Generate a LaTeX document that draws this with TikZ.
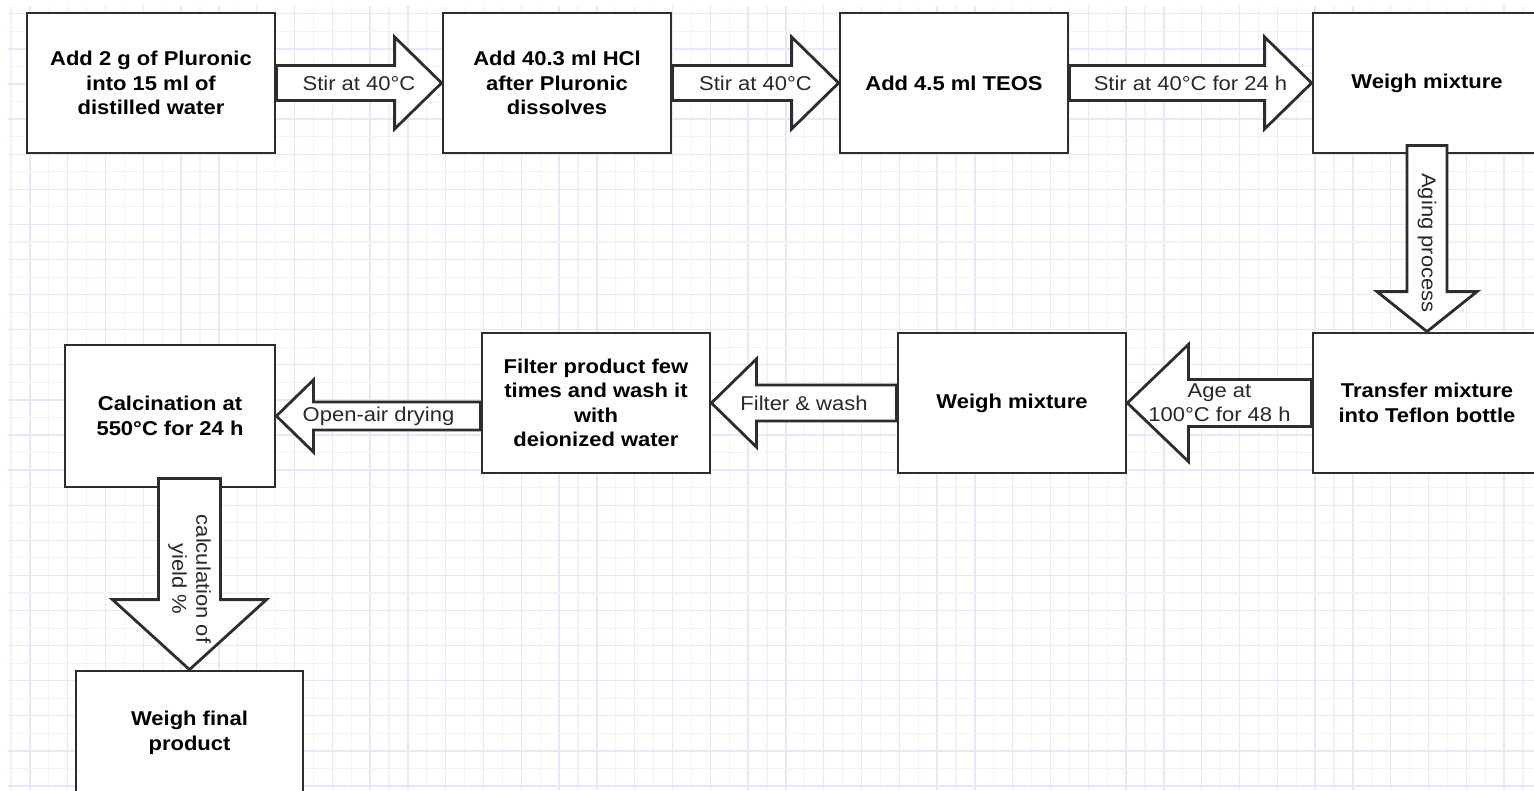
\documentclass[tikz,border=0pt]{standalone}
\usepackage{fontspec}
\setmainfont{Liberation Sans}[FakeStretch=1.1]
\usetikzlibrary{calc}

\definecolor{boxline}{RGB}{45,45,45}
\definecolor{gridmajor}{RGB}{230,230,252}
\definecolor{gridminor}{RGB}{242,242,254}
\definecolor{labeltext}{RGB}{40,40,40}

\tikzset{
	shaftw/.store in=\shafthw, headw/.store in=\headhw, headl/.store in=\headlen,
	shaftw=17.5, headw=46, headl=47,
	stepbox/.style={draw=boxline, line width=2.8pt, fill=white, text=black, minimum width=228pt, minimum height=140pt, inner sep=0pt, align=center, font=\fontsize{20pt}{24.5pt}\selectfont\bfseries},
	steplabel/.style={text=labeltext, inner sep=0pt, align=center, font=\fontsize{20pt}{24pt}\selectfont},
	flowarrow/.style={draw=boxline, line width=2.8pt, fill=white},
	rblock/.style={flowarrow, to path={($(\tikztostart)+(0,-\shafthw)$) -- ($(\tikztotarget)+(-\headlen,-\shafthw)$) -- ($(\tikztotarget)+(-\headlen,-\headhw)$) -- (\tikztotarget) -- ($(\tikztotarget)+(-\headlen,\headhw)$) -- ($(\tikztotarget)+(-\headlen,\shafthw)$) -- ($(\tikztostart)+(0,\shafthw)$) -- cycle}},
	lblock/.style={flowarrow, to path={($(\tikztostart)+(0,-\shafthw)$) -- ($(\tikztotarget)+(\headlen,-\shafthw)$) -- ($(\tikztotarget)+(\headlen,-\headhw)$) -- (\tikztotarget) -- ($(\tikztotarget)+(\headlen,\headhw)$) -- ($(\tikztotarget)+(\headlen,\shafthw)$) -- ($(\tikztostart)+(0,\shafthw)$) -- cycle}},
	dblock/.style={flowarrow, to path={($(\tikztostart)+(-\shafthw,0)$) -- ($(\tikztotarget)+(-\shafthw,-\headlen)$) -- ($(\tikztotarget)+(-\headhw,-\headlen)$) -- (\tikztotarget) -- ($(\tikztotarget)+(\headhw,-\headlen)$) -- ($(\tikztotarget)+(\shafthw,-\headlen)$) -- ($(\tikztostart)+(\shafthw,0)$) -- cycle}}
}

\begin{document}
\begin{tikzpicture}[x=1pt, y=-1pt]
	\useasboundingbox (0, 0) rectangle (1534, 790);
	\clip (0, 0) rectangle (1534, 790);
	\fill[white] (0, 0) rectangle (1534, 790);
	% background grid
	\begin{scope}
		\clip (8, 6) rectangle (1534, 790);
		\foreach \i in {0,...,40} \draw[gridminor, line width=1.1pt] (11+37.8*\i, 6) -- (11+37.8*\i, 790);
		\foreach \i in {0,...,39} \draw[gridmajor, line width=1.3pt] (29.9+37.8*\i, 6) -- (29.9+37.8*\i, 790);
		\foreach \j in {0,...,21} \draw[gridminor, line width=1.1pt] (8, 31.35+35.1*\j) -- (1534, 31.35+35.1*\j);
		\foreach \j in {0,...,22} \draw[gridmajor, line width=1.3pt] (8, 13.8+35.1*\j) -- (1534, 13.8+35.1*\j);
	\end{scope}

	\node[stepbox, minimum width=248pt] (Plu)at(151, 83) {Add 2 g of Pluronic\\into 15 ml of\\distilled water};
	\node[stepbox] (HCl)at(557, 83) {Add 40.3 ml HCl\\after Pluronic\\dissolves};
	\node[stepbox] (TEOS)at(954, 83) {Add 4.5 ml TEOS};
	\node[stepbox] (WM1)at(1427, 83) {Weigh mixture};
	\node[stepbox] (Tef)at(1427, 403) {Transfer mixture\\into Teflon bottle};
	\node[stepbox] (WM2)at(1012, 403) {Weigh mixture};
	\node[stepbox] (Fil)at(596, 403) {Filter product few\\times and wash it\\with\\deionized water};
	\node[stepbox, minimum width=210pt, minimum height=142pt] (Cal)at(170, 416) {Calcination at\\550°C for 24 h};
	\node[stepbox, minimum width=227pt, minimum height=124pt] (WFP)at(189.5, 733) {Weigh final\\product};

	\coordinate (AgeTop) at ($(WM1.south)+(0,-9)$);
	\coordinate (CalBot) at ($(WFP.north |- Cal.south)+(0,-10)$);
	\coordinate (DryStart) at (Fil.west |- Cal.east);

	\draw[rblock] (Plu.east) to (HCl.west);
	\draw[rblock] (HCl.east) to (TEOS.west);
	\draw[rblock] (TEOS.east) to (WM1.west);
	\draw[dblock, shaftw=20, headw=50, headl=40] (AgeTop) to (Tef.north);
	\draw[lblock, shaftw=23.5, headw=58.5, headl=61] (Tef.west) to (WM2.east);
	\draw[lblock, shaftw=18, headw=44, headl=45] (WM2.west) to (Fil.east);
	\draw[lblock, shaftw=14, headw=36, headl=37] (DryStart) to (Cal.east);
	\draw[dblock, shaftw=31, headw=77, headl=70] (CalBot) to (WFP.north);

	\node[steplabel] (L1) at ($(Plu.east)!0.5!(HCl.west)$) {Stir at 40°C};
	\node[steplabel] (L2) at ($(HCl.east)!0.5!(TEOS.west)$) {Stir at 40°C};
	\node[steplabel] (L3) at ($(TEOS.east)!0.5!(WM1.west)$) {Stir at 40°C for 24 h};
	\node[steplabel, rotate=-90] (L4) at ($(WM1.south)!0.5!(Tef.north)$) {Aging process};
	\node[steplabel] (L5) at ($(Tef.west)!0.5!(WM2.east)$) {Age at\\100°C for 48 h};
	\node[steplabel] (L6) at ($(WM2.west)!0.5!(Fil.east)$) {Filter \& wash};
	\node[steplabel] (L7) at ($(DryStart)!0.5!(Cal.east)$) {Open-air drying};
	\node[steplabel, rotate=-90] (L8) at ($(WFP.north)!0.5!(WFP.north |- Cal.south)$) {calculation of\\yield \%};
\end{tikzpicture}
\end{document}
